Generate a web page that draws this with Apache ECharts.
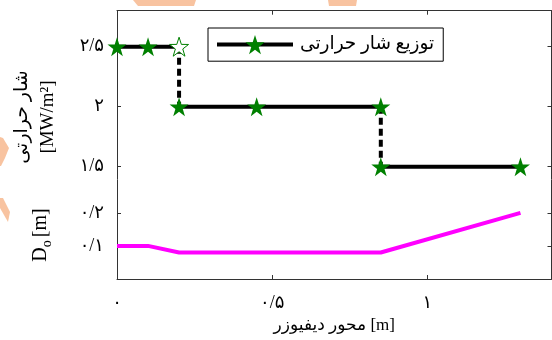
<!DOCTYPE html>
<html><head><meta charset="utf-8">
<script src="https://cdn.jsdelivr.net/npm/echarts@6/dist/echarts.min.js"></script>
<style>html,body{margin:0;padding:0;background:#fff}#c{width:552px;height:340px}</style>
</head><body><div id="c"></div>
<script>
// ---- data ----
const legendName = 'توزیع شار حرارتی';
const heatSeg1 = [[0, 2.5], [0.1, 2.5], [0.2, 2.5]];
const heatSeg2 = [[0.2, 2.0], [0.45, 2.0], [0.85, 2.0]];
const heatSeg3 = [[0.85, 1.5], [1.3, 1.5]];
const heatJump1 = [[0.2, 2.5], [0.2, 2.0]];
const heatJump2 = [[0.85, 2.0], [0.85, 1.5]];
const diameter = [[0, 0.1], [0.1, 0.1], [0.2, 0.08], [0.85, 0.08], [1.3, 0.2]];
const xTicks = [0, 0.5, 1];
const heatTicks = [1.5, 2, 2.5];
const dTicks = [0.1, 0.2];
const xName = 'محور دیفیوزر [m]';
const heatName = 'شار حرارتی\n[MW/m²]';

// ---- helpers ----
const FONT = '"Liberation Serif", "DejaVu Sans", serif';
const faDigits = '۰۱۲۳۴۵۶۷۸۹';
function fa(v) {
  const s = String(Math.round(v * 100) / 100);
  return s.replace('.', '/').replace(/\d/g, d => faDigits[d]);
}
function starPath() {
  const pts = [];
  for (let i = 0; i < 10; i++) {
    const r = i % 2 === 0 ? 50 : 19.5;
    const a = -Math.PI / 2 + i * Math.PI / 5;
    pts.push((50 + r * Math.cos(a)).toFixed(2) + ' ' + (50 + r * Math.sin(a)).toFixed(2));
  }
  return 'path://M' + pts.join(' L') + ' Z';
}
const STAR = starPath();
const GREEN = '#008000';
const AX = '#333';

const chart = echarts.init(document.getElementById('c'), null, {renderer: 'canvas'});
const axisCommon = {
  axisLine: {show: true, onZero: false, lineStyle: {color: AX, width: 1}},
  splitLine: {show: false},
  axisTick: {show: true, inside: true, length: 4, lineStyle: {color: AX}},
  axisLabel: {color: '#000', fontFamily: FONT, fontSize: 18}
};
function heatData(arr, hollowLast) {
  return arr.map((p, i) => (hollowLast && i === arr.length - 1)
    ? {value: p, itemStyle: {color: '#fff', borderColor: GREEN, borderWidth: 1}} : p);
}
const option = {
  animation: false,
  backgroundColor: '#fff',
  grid: [
    {left: 117, right: 0.5, top: 10.7, height: 168},
    {left: 117, right: 0.5, top: 179.7, height: 99.3}
  ],
  xAxis: [
    Object.assign({}, axisCommon, {gridIndex: 0, type: 'value', min: 0, max: 1.4, position: 'top',
      axisTick: Object.assign({}, axisCommon.axisTick, {customValues: [0.5, 1]}),
      axisLabel: {show: false}}),
    Object.assign({}, axisCommon, {gridIndex: 1, type: 'value', min: 0, max: 1.4, position: 'bottom',
      axisTick: Object.assign({}, axisCommon.axisTick, {customValues: [0.5, 1]}),
      axisLabel: Object.assign({}, axisCommon.axisLabel, {customValues: xTicks, margin: 15, formatter: fa}),
      name: xName, nameLocation: 'middle', nameGap: 38,
      nameTextStyle: {fontFamily: FONT, fontSize: 17, color: '#000'}})
  ],
  yAxis: [
    Object.assign({}, axisCommon, {gridIndex: 0, type: 'value', min: 1.4, max: 2.8, position: 'left',
      axisTick: Object.assign({}, axisCommon.axisTick, {customValues: heatTicks}),
      axisLabel: Object.assign({}, axisCommon.axisLabel, {customValues: heatTicks, margin: 13, formatter: fa})}),
    Object.assign({}, axisCommon, {gridIndex: 0, type: 'value', min: 1.4, max: 2.8, position: 'right',
      axisTick: Object.assign({}, axisCommon.axisTick, {customValues: heatTicks}),
      axisLabel: {show: false}}),
    Object.assign({}, axisCommon, {gridIndex: 1, type: 'value', min: 0, max: 0.3, position: 'left',
      axisTick: Object.assign({}, axisCommon.axisTick, {customValues: dTicks}),
      axisLabel: Object.assign({}, axisCommon.axisLabel, {customValues: dTicks, margin: 13, formatter: fa})}),
    Object.assign({}, axisCommon, {gridIndex: 1, type: 'value', min: 0, max: 0.3, position: 'right',
      axisTick: Object.assign({}, axisCommon.axisTick, {customValues: dTicks}),
      axisLabel: {show: false}})
  ],
  legend: {
    data: [{name: legendName}],
    left: 208, top: 28,
    padding: [7, 9, 7, 7],
    itemWidth: 76, itemHeight: 24, itemGap: 0,
    borderColor: '#000', borderWidth: 1, borderRadius: 0,
    backgroundColor: '#fff',
    lineStyle: {width: 4, color: '#000'},
    itemStyle: {color: GREEN},
    textStyle: {fontFamily: FONT, fontSize: 18.5, color: '#000', padding: [0, 0, 0, 2]}
  },
  series: [
    {name: 'jump1', type: 'line', xAxisIndex: 0, yAxisIndex: 0, data: heatJump1, symbol: 'none', z: 2,
      lineStyle: {color: '#000', width: 4, type: [7, 4]}},
    {name: 'jump2', type: 'line', xAxisIndex: 0, yAxisIndex: 0, data: heatJump2, symbol: 'none', z: 2,
      lineStyle: {color: '#000', width: 4, type: [7, 4]}},
    {name: legendName, type: 'line', xAxisIndex: 0, yAxisIndex: 0, data: heatData(heatSeg1, true),
      symbol: STAR, symbolSize: 19, z: 3, itemStyle: {color: GREEN}, lineStyle: {color: '#000', width: 4}},
    {name: legendName, type: 'line', xAxisIndex: 0, yAxisIndex: 0, data: heatData(heatSeg2, false),
      symbol: STAR, symbolSize: 19, z: 3, itemStyle: {color: GREEN}, lineStyle: {color: '#000', width: 4}},
    {name: legendName, type: 'line', xAxisIndex: 0, yAxisIndex: 0, data: heatData(heatSeg3, false),
      symbol: STAR, symbolSize: 19, z: 3, itemStyle: {color: GREEN}, lineStyle: {color: '#000', width: 4}},
    {name: 'Do', type: 'line', xAxisIndex: 1, yAxisIndex: 2, data: diameter, symbol: 'none', z: 3,
      lineStyle: {color: '#ff00ff', width: 4}}
  ],
  graphic: [
    {type: 'text', x: 35, y: 117, rotation: Math.PI / 2,
      style: {text: heatName, fontFamily: FONT, fontSize: 19, lineHeight: 26, fill: '#000',
        align: 'center', verticalAlign: 'middle'}},
    {type: 'text', x: 41, y: 235, rotation: Math.PI / 2,
      style: {text: '{a|D}{b|o} {a|[m]}', fontFamily: FONT, fill: '#000', align: 'center', verticalAlign: 'middle',
        rich: {a: {fontFamily: FONT, fontSize: 20, lineHeight: 26, verticalAlign: 'middle'},
               b: {fontFamily: FONT, fontSize: 14, lineHeight: 26, verticalAlign: 'bottom'}}}},
    {type: 'polygon', shape: {points: [[133, 0], [196, 0], [194, 6], [138, 6]]}, style: {fill: '#f8c3a0'}, z: -1},
    {type: 'polygon', shape: {points: [[328, 0], [357, 0], [356, 6], [329, 6]]}, style: {fill: '#f8c3a0'}, z: -1},
    {type: 'polygon', shape: {points: [[0, 137], [3, 138], [9, 148], [5, 158], [1, 166], [0, 166]]}, style: {fill: '#f8c3a0'}, z: -1},
    {type: 'polygon', shape: {points: [[0, 198], [3, 198], [10, 212], [8, 222], [0, 208]]}, style: {fill: '#f8c3a0'}, z: -1}
  ]
};
chart.setOption(option);
</script></body></html>
